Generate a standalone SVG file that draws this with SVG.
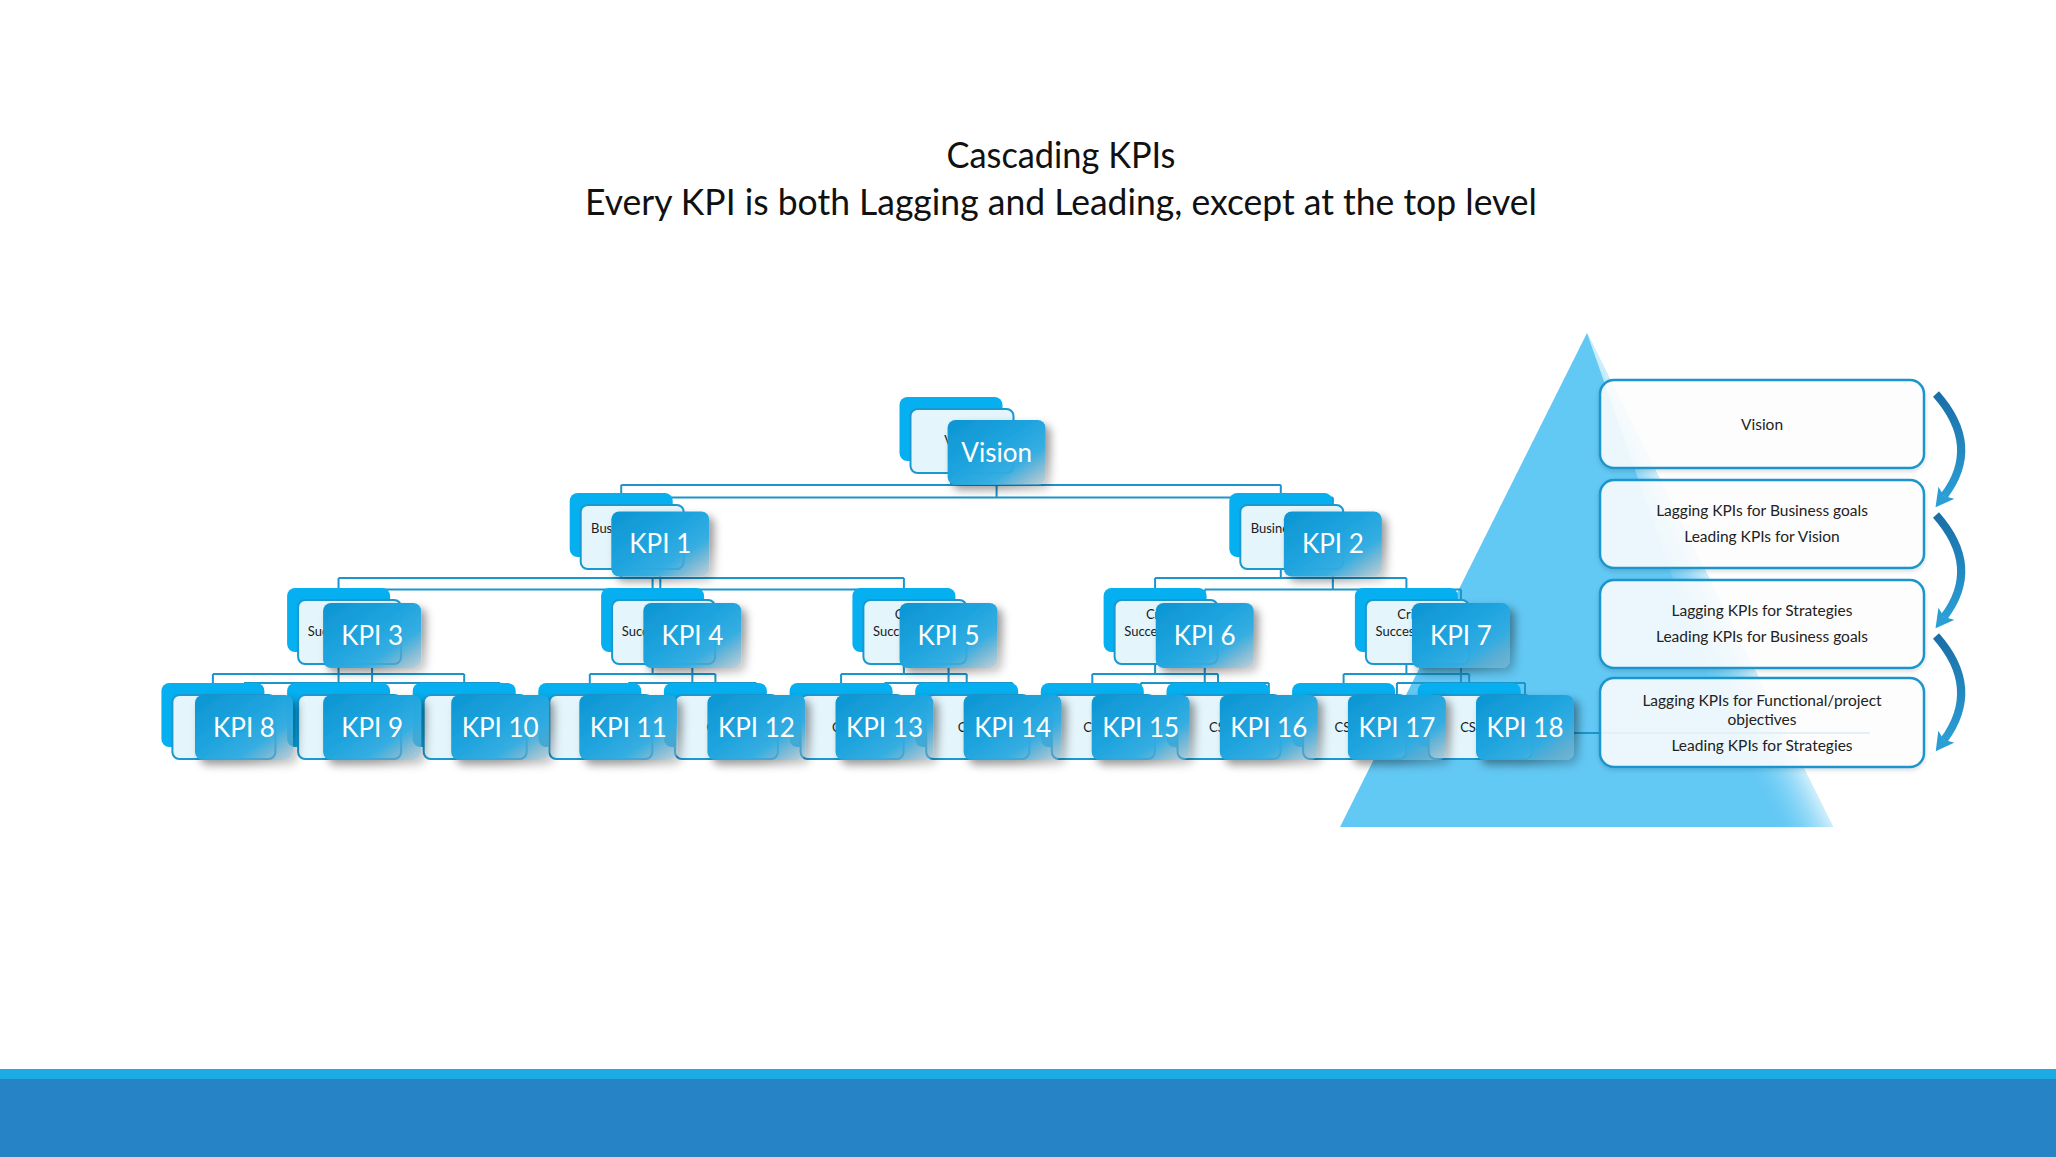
<svg xmlns="http://www.w3.org/2000/svg" width="2056" height="1157" viewBox="0 0 2056 1157">
<defs>
<style>
.title{font-family:Lato,"Liberation Sans",sans-serif;font-size:37px;fill:#111;text-anchor:middle}
.conn{fill:none;stroke:#1b95cc;stroke-width:2}
.back{fill:#05aff0}
.light{fill:#e4f5fc;stroke:#1a99d1;stroke-width:2}
.lt{font-family:Lato,"Liberation Sans",sans-serif;font-size:13px;fill:#1a1a1a}
.ltm{text-anchor:middle}
.front{fill:url(#fg);filter:url(#sh)}
.ft{font-family:Lato,"Liberation Sans",sans-serif;font-size:26px;fill:#fff;text-anchor:middle}
.rbox{fill:#fff;fill-opacity:0.87;stroke:#1c95cd;stroke-width:2.5}
.rt{font-family:Lato,"Liberation Sans",sans-serif;font-size:15.5px;fill:#222;text-anchor:middle}
.arr{fill:none;stroke:url(#ag);stroke-width:8;stroke-linecap:butt}
</style>
<linearGradient id="fg" x1="0" y1="0" x2="1" y2="1">
<stop offset="0" stop-color="#0b95d2"/>
<stop offset="0.45" stop-color="#1fa4de"/>
<stop offset="0.7" stop-color="#30ade3" stop-opacity="0.95"/>
<stop offset="1" stop-color="#8fb8cc" stop-opacity="0.35"/>
</linearGradient>
<filter id="sh" x="-20%" y="-20%" width="150%" height="150%">
<feDropShadow dx="5" dy="5" stdDeviation="4" flood-color="#000" flood-opacity="0.4"/>
</filter>
<filter id="rsh" x="-5%" y="-10%" width="110%" height="130%">
<feDropShadow dx="0" dy="2" stdDeviation="2" flood-color="#000" flood-opacity="0.15"/>
</filter>
<linearGradient id="hl" gradientUnits="userSpaceOnUse" x1="1702" y1="560" x2="1652" y2="585">
<stop offset="0" stop-color="#dff4fd" stop-opacity="0.95"/>
<stop offset="1" stop-color="#62c8f4" stop-opacity="0"/>
</linearGradient>
<linearGradient id="ag" x1="0" y1="0" x2="0" y2="1">
<stop offset="0" stop-color="#1a6ea6"/>
<stop offset="1" stop-color="#2a9fd6"/>
</linearGradient>
<marker id="ah" markerUnits="userSpaceOnUse" markerWidth="22" markerHeight="22" refX="4" refY="10" orient="auto">
<path d="M0,0 L18,10 L0,20 L4,10 Z" fill="#2a9fd6"/>
</marker>
</defs>

<rect x="0" y="0" width="2056" height="1157" fill="#fff"/>

<g id="title">
<text class="title" x="1061" y="168" textLength="229" lengthAdjust="spacingAndGlyphs">Cascading KPIs</text>
<text class="title" x="1061" y="215" textLength="952" lengthAdjust="spacingAndGlyphs">Every KPI is both Lagging and Leading, except at the top level</text>
</g>

<g id="pyramid">
<polygon points="1587,333 1340,827 1833,827" fill="#62c8f4"/>
<polygon points="1587,333 1833,827 1760,827" fill="url(#hl)"/>
</g>

<g id="connectors">
<path class="conn" d="M951,462V485M621.2,485H1280.8M621.2,485V493M1280.8,485V493
M621.2,557V578M338.55,578H903.9M338.55,578V588M652.6,578V588M903.9,578V588
M1280.8,557V578M1155.1,578H1406.4M1155.1,578V588M1406.4,578V588
M338.55,652V674M212.9,674H464.2M212.9,674V683M338.55,674V683M464.2,674V683
M652.6,652V674M589.8,674H715.4M589.8,674V683M715.4,674V683
M903.9,652V674M841.1,674H966.7M841.1,674V683M966.7,674V683
M1155.1,652V674M1092.3,674H1218M1092.3,674V683M1218,674V683
M1406.4,652V674M1343.6,674H1469.2M1343.6,674V683M1469.2,674V683"/>
<path class="conn" d="M996.6,484V497.5M660.3,497.5H1332.85M660.3,497.5V511.5M1332.85,497.5V511.5
M660.3,576.5V589.5M372.1,589.5H948.55M372.1,589.5V603M692.35,589.5V603M948.55,589.5V603
M1332.85,576.5V589.5M1204.75,589.5H1460.95M1204.75,589.5V603M1460.95,589.5V603
M372.1,668V683M244,683H500.2M244,683V695M372.1,683V695M500.2,683V695
M692.35,668V683M628.3,683H756.4M628.3,683V695M756.4,683V695
M948.55,668V683M884.5,683H1012.6M884.5,683V695M1012.6,683V695
M1204.75,668V683M1140.7,683H1268.8M1140.7,683V695M1268.8,683V695
M1460.95,668V683M1396.9,683H1525M1396.9,683V695M1525,683V695"/>
<path class="conn" d="M1574,733H1870"/>
</g>

<g id="back-chart">
<g id="back-vision"><rect class="back" x="899.5" y="397" width="103" height="64" rx="8"/><rect class="light" x="910.5" y="409" width="103" height="64" rx="7"/><text class="lt ltm" x="962" y="445">Vision</text></g>
<g id="back-kpi1"><rect class="back" x="569.7" y="493" width="103" height="64" rx="8"/><rect class="light" x="580.7" y="505" width="103" height="64" rx="7"/><text class="lt ltm" x="632.2" y="533">Business goals</text></g>
<g id="back-kpi2"><rect class="back" x="1229.3" y="493" width="103" height="64" rx="8"/><rect class="light" x="1240.3" y="505" width="103" height="64" rx="7"/><text class="lt ltm" x="1291.8" y="533">Business goals</text></g>
<g id="back-kpi3"><rect class="back" x="287.1" y="588" width="103" height="64" rx="8"/><rect class="light" x="298.1" y="600" width="103" height="64" rx="7"/><text class="lt ltm" x="349.6" y="619">Critical</text><text class="lt ltm" x="349.6" y="636">Success Factor</text></g>
<g id="back-kpi4"><rect class="back" x="601.1" y="588" width="103" height="64" rx="8"/><rect class="light" x="612.1" y="600" width="103" height="64" rx="7"/><text class="lt ltm" x="663.6" y="619">Critical</text><text class="lt ltm" x="663.6" y="636">Success Factor</text></g>
<g id="back-kpi5"><rect class="back" x="852.4" y="588" width="103" height="64" rx="8"/><rect class="light" x="863.4" y="600" width="103" height="64" rx="7"/><text class="lt ltm" x="914.9" y="619">Critical</text><text class="lt ltm" x="914.9" y="636">Success Factor</text></g>
<g id="back-kpi6"><rect class="back" x="1103.6" y="588" width="103" height="64" rx="8"/><rect class="light" x="1114.6" y="600" width="103" height="64" rx="7"/><text class="lt ltm" x="1166.1" y="619">Critical</text><text class="lt ltm" x="1166.1" y="636">Success Factor</text></g>
<g id="back-kpi7"><rect class="back" x="1354.9" y="588" width="103" height="64" rx="8"/><rect class="light" x="1365.9" y="600" width="103" height="64" rx="7"/><text class="lt ltm" x="1417.4" y="619">Critical</text><text class="lt ltm" x="1417.4" y="636">Success Factor</text></g>
<g id="back-kpi8"><rect class="back" x="161.4" y="683" width="103" height="64" rx="8"/><rect class="light" x="172.4" y="695" width="103" height="64" rx="7"/><text class="lt" x="203.9" y="732">CSF</text></g>
<g id="back-kpi9"><rect class="back" x="287.1" y="683" width="103" height="64" rx="8"/><rect class="light" x="298.1" y="695" width="103" height="64" rx="7"/><text class="lt" x="329.6" y="732">CSF</text></g>
<g id="back-kpi10"><rect class="back" x="412.7" y="683" width="103" height="64" rx="8"/><rect class="light" x="423.7" y="695" width="103" height="64" rx="7"/><text class="lt" x="455.2" y="732">CSF</text></g>
<g id="back-kpi11"><rect class="back" x="538.3" y="683" width="103" height="64" rx="8"/><rect class="light" x="549.3" y="695" width="103" height="64" rx="7"/><text class="lt" x="580.8" y="732">CSF</text></g>
<g id="back-kpi12"><rect class="back" x="663.9" y="683" width="103" height="64" rx="8"/><rect class="light" x="674.9" y="695" width="103" height="64" rx="7"/><text class="lt" x="706.4" y="732">CSF</text></g>
<g id="back-kpi13"><rect class="back" x="789.6" y="683" width="103" height="64" rx="8"/><rect class="light" x="800.6" y="695" width="103" height="64" rx="7"/><text class="lt" x="832.1" y="732">CSF</text></g>
<g id="back-kpi14"><rect class="back" x="915.2" y="683" width="103" height="64" rx="8"/><rect class="light" x="926.2" y="695" width="103" height="64" rx="7"/><text class="lt" x="957.7" y="732">CSF</text></g>
<g id="back-kpi15"><rect class="back" x="1040.8" y="683" width="103" height="64" rx="8"/><rect class="light" x="1051.8" y="695" width="103" height="64" rx="7"/><text class="lt" x="1083.3" y="732">CSF</text></g>
<g id="back-kpi16"><rect class="back" x="1166.5" y="683" width="103" height="64" rx="8"/><rect class="light" x="1177.5" y="695" width="103" height="64" rx="7"/><text class="lt" x="1209" y="732">CSF</text></g>
<g id="back-kpi17"><rect class="back" x="1292.1" y="683" width="103" height="64" rx="8"/><rect class="light" x="1303.1" y="695" width="103" height="64" rx="7"/><text class="lt" x="1334.6" y="732">CSF</text></g>
<g id="back-kpi18"><rect class="back" x="1417.7" y="683" width="103" height="64" rx="8"/><rect class="light" x="1428.7" y="695" width="103" height="64" rx="7"/><text class="lt" x="1460.2" y="732">CSF</text></g>
</g>

<g id="front-chart">
<g id="vision"><rect class="front" x="947.6" y="420" width="98" height="65" rx="8"/><text class="ft" x="996.6" y="461.5">Vision</text></g>
<g id="kpi1"><rect class="front" x="611.3" y="511.5" width="98" height="65" rx="8"/><text class="ft" x="660.3" y="553">KPI 1</text></g>
<g id="kpi2"><rect class="front" x="1283.85" y="511.5" width="98" height="65" rx="8"/><text class="ft" x="1332.85" y="553">KPI 2</text></g>
<g id="kpi3"><rect class="front" x="323.1" y="603" width="98" height="65" rx="8"/><text class="ft" x="372.1" y="644.5">KPI 3</text></g>
<g id="kpi4"><rect class="front" x="643.35" y="603" width="98" height="65" rx="8"/><text class="ft" x="692.35" y="644.5">KPI 4</text></g>
<g id="kpi5"><rect class="front" x="899.55" y="603" width="98" height="65" rx="8"/><text class="ft" x="948.55" y="644.5">KPI 5</text></g>
<g id="kpi6"><rect class="front" x="1155.75" y="603" width="98" height="65" rx="8"/><text class="ft" x="1204.75" y="644.5">KPI 6</text></g>
<g id="kpi7"><rect class="front" x="1411.95" y="603" width="98" height="65" rx="8"/><text class="ft" x="1460.95" y="644.5">KPI 7</text></g>
<g id="kpi8"><rect class="front" x="195" y="695" width="98" height="65" rx="8"/><text class="ft" x="244" y="736.5">KPI 8</text></g>
<g id="kpi9"><rect class="front" x="323.1" y="695" width="98" height="65" rx="8"/><text class="ft" x="372.1" y="736.5">KPI 9</text></g>
<g id="kpi10"><rect class="front" x="451.2" y="695" width="98" height="65" rx="8"/><text class="ft" x="500.2" y="736.5">KPI 10</text></g>
<g id="kpi11"><rect class="front" x="579.3" y="695" width="98" height="65" rx="8"/><text class="ft" x="628.3" y="736.5">KPI 11</text></g>
<g id="kpi12"><rect class="front" x="707.4" y="695" width="98" height="65" rx="8"/><text class="ft" x="756.4" y="736.5">KPI 12</text></g>
<g id="kpi13"><rect class="front" x="835.5" y="695" width="98" height="65" rx="8"/><text class="ft" x="884.5" y="736.5">KPI 13</text></g>
<g id="kpi14"><rect class="front" x="963.6" y="695" width="98" height="65" rx="8"/><text class="ft" x="1012.6" y="736.5">KPI 14</text></g>
<g id="kpi15"><rect class="front" x="1091.7" y="695" width="98" height="65" rx="8"/><text class="ft" x="1140.7" y="736.5">KPI 15</text></g>
<g id="kpi16"><rect class="front" x="1219.8" y="695" width="98" height="65" rx="8"/><text class="ft" x="1268.8" y="736.5">KPI 16</text></g>
<g id="kpi17"><rect class="front" x="1347.9" y="695" width="98" height="65" rx="8"/><text class="ft" x="1396.9" y="736.5">KPI 17</text></g>
<g id="kpi18"><rect class="front" x="1476" y="695" width="98" height="65" rx="8"/><text class="ft" x="1525" y="736.5">KPI 18</text></g>
</g>

<g id="levels">
<g id="level-vision"><rect class="rbox" x="1600" y="380" width="324" height="88" rx="14" filter="url(#rsh)"/><text class="rt" x="1762" y="430">Vision</text></g>
<g id="level-business"><rect class="rbox" x="1600" y="480" width="324" height="88" rx="14" filter="url(#rsh)"/><text class="rt" x="1762" y="516">Lagging KPIs for Business goals</text><text class="rt" x="1762" y="542">Leading KPIs for Vision</text></g>
<g id="level-strategies"><rect class="rbox" x="1600" y="580" width="324" height="88" rx="14" filter="url(#rsh)"/><text class="rt" x="1762" y="616">Lagging KPIs for Strategies</text><text class="rt" x="1762" y="642">Leading KPIs for Business goals</text></g>
<g id="level-functional"><rect class="rbox" x="1600" y="678" width="324" height="89" rx="14" filter="url(#rsh)"/><text class="rt" x="1762" y="706">Lagging KPIs for Functional/project</text><text class="rt" x="1762" y="725">objectives</text><text class="rt" x="1762" y="751">Leading KPIs for Strategies</text></g>
</g>

<g id="cycle-arrows">
<path class="arr" d="M1936,394 Q1982,446 1944,496" marker-end="url(#ah)"/>
<path class="arr" d="M1936,515 Q1982,567 1944,617" marker-end="url(#ah)"/>
<path class="arr" d="M1936,636 Q1982,688 1944,740" marker-end="url(#ah)"/>
</g>

<g id="footer">
<rect x="0" y="1069" width="2056" height="11" fill="#1eaae4"/>
<rect x="0" y="1079" width="2056" height="78" fill="#2683c6"/>
</g>
</svg>
